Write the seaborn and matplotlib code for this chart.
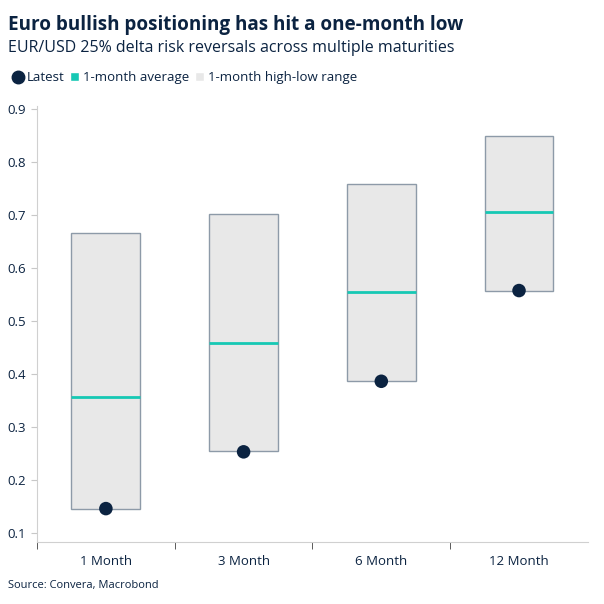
import matplotlib
matplotlib.use("Agg")
import matplotlib.pyplot as plt
from matplotlib.lines import Line2D
from matplotlib.patches import Patch
import seaborn as sns
import pandas as pd

# Data
maturities = ["1 Month", "3 Month", "6 Month", "12 Month"]
range_low = [0.146, 0.254, 0.387, 0.557]
range_high = [0.665, 0.702, 0.757, 0.848]
month_avg = [0.357, 0.458, 0.555, 0.706]
latest = [0.146, 0.253, 0.386, 0.557]

navy = "#0B2341"
teal = "#16C8B4"
grey_fill = "#E8E8E8"
grey_edge = "#8D9AA8"

df = pd.DataFrame({
    "maturity": maturities,
    "low": range_low,
    "high": range_high,
    "avg": month_avg,
    "latest": latest,
})
df["span"] = df["high"] - df["low"]

sns.set_style("white")
plt.rcParams["font.family"] = ["Open Sans", "DejaVu Sans"]

fig = plt.figure(figsize=(6.04, 6.04), dpi=100)
ax = fig.add_axes([0.0613, 0.1026, 0.912, 0.722])

# high-low range boxes
sns.barplot(data=df, x="maturity", y="span", bottom=df["low"].values, color=grey_fill,
            width=0.5, edgecolor=grey_edge, linewidth=1.0, saturation=1, ax=ax, zorder=2)

# 1-month average lines
ax.hlines(df["avg"], df.index - 0.25, df.index + 0.25, color=teal, lw=2, zorder=3)

# latest points
sns.scatterplot(data=df, x="maturity", y="latest", color=navy, s=95, edgecolor="none",
                ax=ax, zorder=4)

ax.set_xlim(-0.5, 3.5)
ax.set_ylim(0.083, 0.905)
ax.set_yticks([0.1, 0.2, 0.3, 0.4, 0.5, 0.6, 0.7, 0.8, 0.9])
ax.set_yticklabels(["0.1", "0.2", "0.3", "0.4", "0.5", "0.6", "0.7", "0.8", "0.9"])
ax.set_xlabel("")
ax.set_ylabel("")

for s in ["top", "right"]:
    ax.spines[s].set_visible(False)
ax.spines["left"].set_color("#D0D0D0")
ax.spines["bottom"].set_color("#D0D0D0")

ax.tick_params(axis="y", length=4, color="#C8C8C8", labelsize=9.5, labelcolor=navy, pad=4, left=True)
ax.tick_params(axis="x", length=0, labelsize=9.5, labelcolor=navy, pad=9)
# category boundary ticks
ax.set_xticks([-0.5, 0.5, 1.5, 2.5], minor=True)
ax.tick_params(axis="x", which="minor", length=5, color="#404040", bottom=True)

fig.text(0.014, 0.958, "Euro bullish positioning has hit a one-month low", fontsize=13.6,
         fontweight="bold", color=navy, va="center")
fig.text(0.014, 0.921, "EUR/USD 25% delta risk reversals across multiple maturities", fontsize=11.5,
         color=navy, va="center")
fig.text(0.014, 0.030, "Source: Convera, Macrobond", fontsize=8, color=navy, va="center")

handles = [
    Line2D([], [], marker="o", ls="none", color=navy, markersize=9),
    Patch(facecolor=teal),
    Patch(facecolor=grey_fill),
]
fig.legend(handles, ["Latest", "1-month average", "1-month high-low range"], loc="center left",
           bbox_to_anchor=(0.003, 0.871), ncol=3, frameon=False, fontsize=9.5, handlelength=0.7,
           handleheight=0.7, handletextpad=0.3, columnspacing=0.4, labelcolor=navy)

fig.savefig("out.png", dpi=100)
